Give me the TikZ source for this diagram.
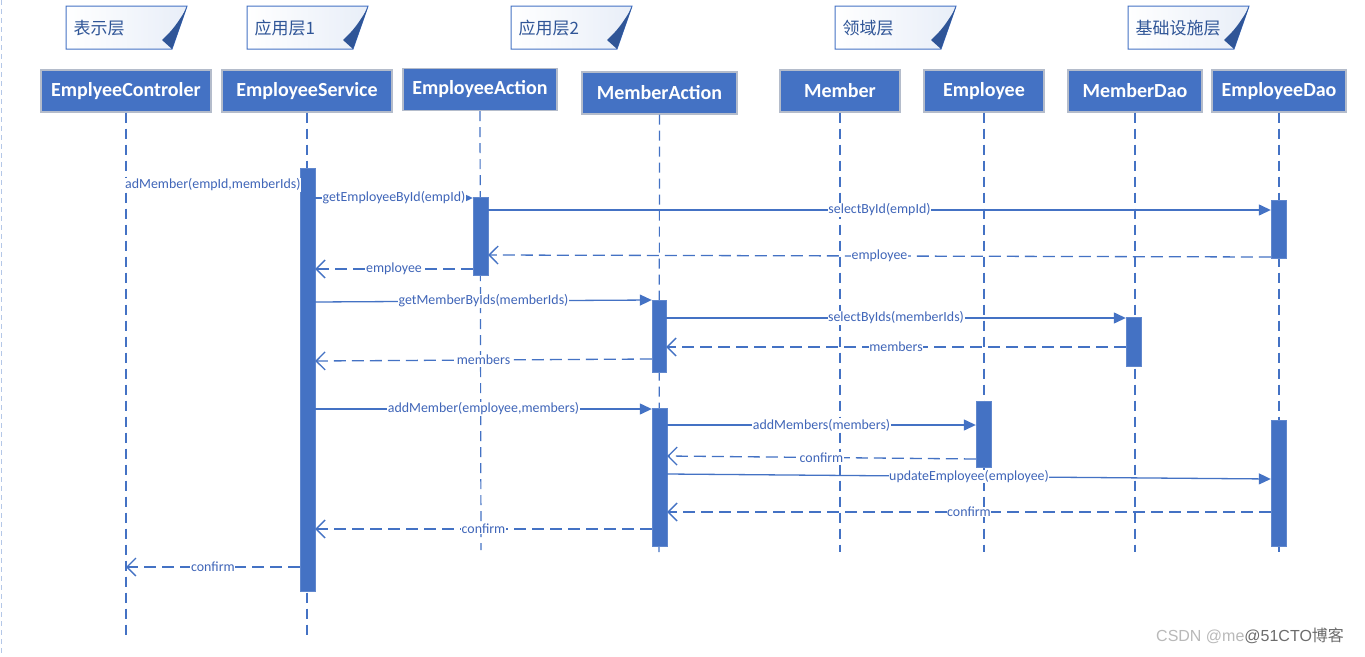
\documentclass[tikz,border=0pt]{standalone}
\usepackage{fontspec}
\setmainfont{Carlito}
\newfontfamily\cjk{Noto Sans CJK SC}
\newfontfamily\wmfont{Liberation Sans}
\usetikzlibrary{arrows.meta,calc}
\definecolor{mainblue}{HTML}{4472C4}
\definecolor{darkblue}{HTML}{2F5597}
\definecolor{txtblue}{HTML}{3F65B8}
\definecolor{boxedge}{HTML}{B4BCCB}
\definecolor{noteshade}{HTML}{E8EEF8}
\newcommand{\layernote}[3]{%
  \path[draw=mainblue, line width=1pt, left color=white, right color=noteshade]
    (#1,6) -- (#1+121,6) -- (#1+106,49) -- (#1,49) -- cycle;
  \fill[darkblue] (#1+121,7) .. controls (#1+113,22) and (#1+105,32) .. (#1+96,40) -- (#1+106,49) -- cycle;
  \node[notetxt] (#2) at (#1+4,28) {#3};}
\begin{document}
\begin{tikzpicture}[x=1pt,y=-1pt,
  hdr/.style={draw=boxedge, line width=1.2pt, fill=mainblue, text=white,
    font=\fontsize{20}{22}\selectfont\bfseries, minimum height=42pt, inner sep=0pt},
  life/.style={mainblue, line width=1.2pt, dash pattern=on 10pt off 6pt},
  actbar/.style={fill=mainblue, draw=mainblue!85!white, minimum width=15pt, inner sep=0pt},
  call/.style={mainblue, line width=1.3pt, -{Triangle[length=12pt,width=11pt]}},
  ret/.style={mainblue, line width=1.3pt, dash pattern=on 12pt off 6pt,
    -{Straight Barb[length=9pt,width=18pt]}},
  lbl/.style={fill=white, text=txtblue, font=\fontsize{13.9}{15}\selectfont, inner sep=0.6pt},
  notetxt/.style={text=darkblue, font=\cjk\fontsize{17}{19}\selectfont, anchor=west}
]
\useasboundingbox (0,0) rectangle (1365,656);
\fill[white] (0,0) rectangle (1365,656);
\draw[draw=mainblue!40!white, line width=1pt, dash pattern=on 5pt off 4pt] (1.5,0) -- (1.5,656);

% layer notes
\layernote{66}{n1}{表示层}
\layernote{247}{n2}{应用层1}
\layernote{511}{n3}{应用层2}
\layernote{835}{n4}{领域层}
\layernote{1128}{n5}{基础设施层}

% headers
\node[hdr, minimum width=170pt] (h1) at (126,91) {EmplyeeControler};
\node[hdr, minimum width=170pt] (h2) at (307,91) {EmployeeService};
\node[hdr, minimum width=154pt] (h3) at (480,89.5) {EmployeeAction};
\node[hdr, minimum width=155pt] (h4) at (659.5,93) {MemberAction};
\node[hdr, minimum width=120pt] (h5) at (840,91) {Member};
\node[hdr, minimum width=120pt] (h6) at (984,91) {Employee};
\node[hdr, minimum width=134pt] (h7) at (1135,91) {MemberDao};
\node[hdr, minimum width=134pt] (h8) at (1279,91) {EmployeeDao};

% lifeline ends
\coordinate (e1) at (126,640);
\coordinate (e2) at (307,640);
\coordinate (e3) at (481,550);
\coordinate (e4) at (659,552);
\coordinate (e5) at (840,552);
\coordinate (e6) at (984,552);
\coordinate (e7) at (1135,552);
\coordinate (e8) at (1279,552);
\foreach \i in {1,...,8} { \draw[life] (h\i.south) -- (e\i); }

% activation bars
\node[actbar, minimum height=423pt] (sv) at (307.5,379.5) {};
\node[actbar, minimum height=78pt] (ea) at (480.5,236) {};
\node[actbar, minimum height=58pt] (ed1) at (1278.5,229) {};
\node[actbar, minimum height=72pt, minimum width=14pt] (ma1) at (659,336) {};
\node[actbar, minimum height=49pt] (md) at (1133.5,341.5) {};
\node[actbar, minimum height=138pt] (ma2) at (659.5,477) {};
\node[actbar, minimum height=66pt] (em) at (983.5,434) {};
\node[actbar, minimum height=126pt] (ed2) at (1278.5,483) {};

% messages
\draw[mainblue, line width=1.3pt] (h1 |- 0,185) -- node[lbl] {adMember(empId,memberIds)} (sv.west |- 0,185);
\draw[call] (sv.east |- 0,198) -- node[lbl] {getEmployeeById(empId)} (ea.west |- 0,198);
\draw[call] (ea.east |- 0,210) -- node[lbl] {selectById(empId)} (ed1.west |- 0,210);
\draw[ret] (ed1.west |- 0,257) -- node[lbl] {employee} (ea.east |- 0,255);
\draw[ret] (ea.west |- 0,269) -- node[lbl] {employee} (sv.east |- 0,269);
\draw[call] (sv.east |- 0,302) -- node[lbl] {getMemberByIds(memberIds)} (ma1.west |- 0,300);
\draw[call] (ma1.east |- 0,318) -- node[lbl] {selectByIds(memberIds)} (md.west |- 0,318);
\draw[ret] (md.west |- 0,347) -- node[lbl] {members} (ma1.east |- 0,347);
\draw[ret] (ma1.west |- 0,359) -- node[lbl] {members} (sv.east |- 0,361);
\draw[call] (sv.east |- 0,409) -- node[lbl] {addMember(employee,members)} (ma2.west |- 0,409);
\draw[call] (ma2.east |- 0,425) -- node[lbl] {addMembers(members)} (em.west |- 0,425);
\draw[ret] (em.west |- 0,459) -- node[lbl] {confirm} (ma2.east |- 0,456);
\draw[call] (ma2.east |- 0,474) -- node[lbl] {updateEmployee(employee)} (ed2.west |- 0,479);
\draw[ret] (ed2.west |- 0,512) -- node[lbl] {confirm} (ma2.east |- 0,512);
\draw[ret] (ma2.west |- 0,529) -- node[lbl] {confirm} (sv.east |- 0,529);
\draw[ret] (sv.west |- 0,567) -- node[lbl] {confirm} (h1 |- 0,567);

% watermark
\node[anchor=west, text=gray!55, font=\wmfont\fontsize{16}{18}\selectfont, inner sep=0pt] (wm) at (1156,636)
  {CSDN @me\textcolor{gray!85!black}{@51CTO{\cjk 博客}}};
\end{tikzpicture}
\end{document}
